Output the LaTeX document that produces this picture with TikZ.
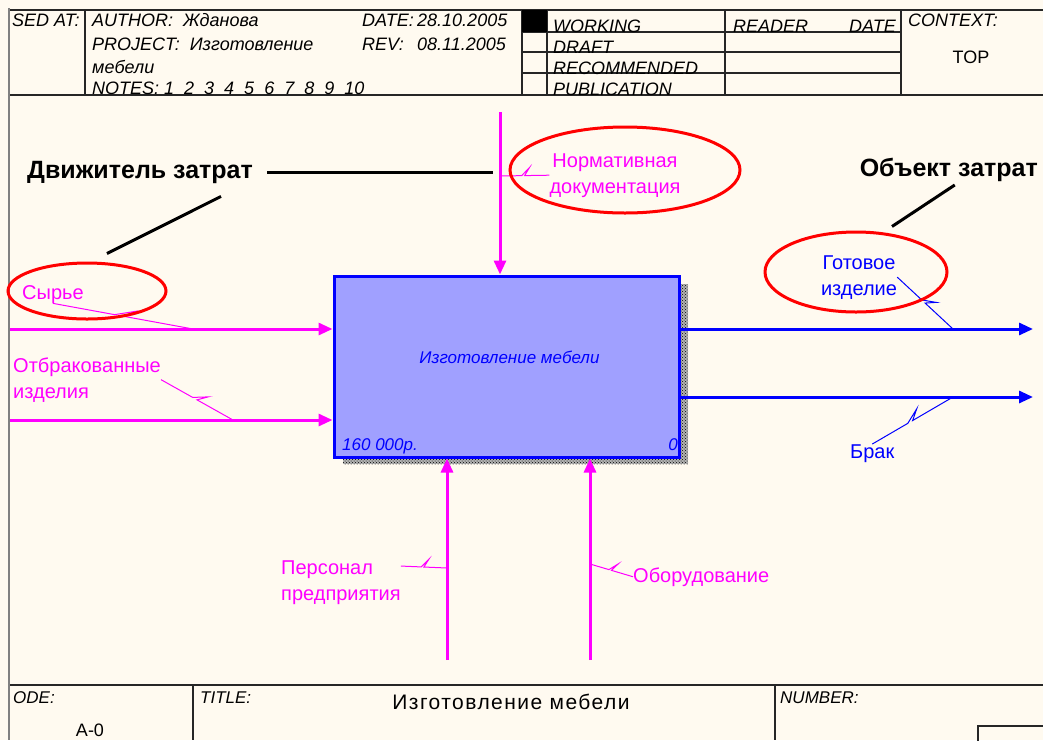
\documentclass[tikz,border=0pt]{standalone}
\usepackage{fontspec}
\setmainfont{Liberation Sans}
\usepackage{tikz}
\usetikzlibrary{arrows.meta,positioning,calc,patterns,shapes.geometric}
\definecolor{paper}{RGB}{255,250,240}
\definecolor{funcfill}{RGB}{160,160,255}
\definecolor{idefmag}{RGB}{255,0,255}
\definecolor{idefblue}{RGB}{0,0,255}
\newcommand{\squig}[3]{\draw[#1,line width=1pt] (#2) -- ($(#2)!0.44!(#3)$) -- ($(#2)!0.6!(#3)!8pt!90:(#3)$) -- ($(#2)!0.5!(#3)$) -- (#3);}

\begin{document}
\begin{tikzpicture}[
  x=1pt,y=-1pt,
  frame/.style={draw=black!85,line width=1.2pt},
  hdr/.style={font=\fontsize{18}{20}\selectfont\itshape,inner sep=0,anchor=base west},
  func/.style={draw=idefblue,line width=3pt,fill=funcfill,inner sep=0},
  ctrl/.style={idefmag,line width=3pt,-{Triangle[length=14pt,width=12pt]}},
  outp/.style={idefblue,line width=3pt,-{Triangle[length=14pt,width=12pt]}},
  lbl/.style={font=\fontsize{20}{26}\selectfont,inner sep=0,align=left,anchor=base west},
  callout/.style={draw=red,line width=3pt,ellipse,inner sep=0},
  note/.style={font=\fontsize{25}{28}\selectfont\bfseries,inner sep=0},
  pointer/.style={black,line width=3pt}
]
\clip (0,0) rectangle (1043,740);
\fill[paper] (0,0) rectangle (1043,740);
\draw[gray,line width=2pt] (9,8) -- (9,740);

% header
\draw[frame] (10,10) -- (1043,10) (10,95) -- (1043,95);
\foreach \x in {85,522,547,725,901} \draw[frame] (\x,10) -- (\x,95);
\foreach \y in {32,52,73} \draw[frame] (522,\y) -- (901,\y);
\fill (522,10) rectangle (547,32);
\node[hdr] (usedat) at (12,26) {SED AT:};
\node[hdr] (author) at (92,26) {AUTHOR:\ \ Жданова};
\node[hdr] (project) at (92,50) {PROJECT:\ \ Изготовление};
\node[hdr] (project2) at (92,73) {мебели};
\node[hdr] (notes) at (92,94) {NOTES:\ 1\ \ 2\ \ 3\ \ 4\ \ 5\ \ 6\ \ 7\ \ 8\ \ 9\ \ 10};
\node[hdr] (datelbl) at (362,26) {DATE:};
\node[hdr] (dateval) at (417,26) {28.10.2005};
\node[hdr] (revlbl) at (362,50) {REV:};
\node[hdr] (revval) at (417,50) {08.11.2005};
\node[hdr] (working) at (553,32) {WORKING};
\node[hdr] (draft) at (553,53) {DRAFT};
\node[hdr] (recomm) at (553,74) {RECOMMENDED};
\node[hdr] (public) at (553,95) {PUBLICATION};
\node[hdr] (reader) at (733,32) {READER};
\node[hdr] (rdate) at (849,32) {DATE};
\node[hdr] (context) at (908,26) {CONTEXT:};
\node[font=\fontsize{18}{20}\selectfont,inner sep=0,anchor=base] (ctxtop) at (971,63) {TOP};

% footer
\draw[frame] (10,685) -- (1043,685);
\foreach \x in {193,775} \draw[frame] (\x,685) -- (\x,740);
\draw[frame] (978,726) rectangle (1050,750);
\node[hdr,font=\fontsize{17}{20}\selectfont\itshape] (nodelbl) at (13,703) {ODE:};
\node[hdr,font=\fontsize{17}{20}\selectfont\itshape] (titlelbl) at (200,703) {TITLE:};
\node[hdr,font=\fontsize{17}{20}\selectfont\itshape] (numlbl) at (780,703) {NUMBER:};
\node[font=\fontsize{21}{24}\selectfont\addfontfeature{LetterSpace=7},inner sep=0,anchor=base] (titletext) at (511,709) {Изготовление мебели};
\node[font=\fontsize{18}{20}\selectfont,inner sep=0,anchor=base] (nodeno) at (90,736) {A-0};

% function block
\fill[gray!60] (343,284) rectangle (688,464);
\fill[pattern=crosshatch dots,pattern color=black] (343,284) rectangle (688,464);
\node[func,minimum width=345pt,minimum height=181pt] (fn) at (506.5,366.5) {};
\node[font=\fontsize{17}{20}\selectfont\itshape,text=idefblue] (fnname) at ($(fn.center)+(3,-9)$) {Изготовление мебели};
\node[font=\fontsize{17}{20}\selectfont\itshape,text=idefblue,inner sep=0,anchor=base west] (cost) at (342,450) {160 000р.};
\node[font=\fontsize{17}{20}\selectfont\itshape,text=idefblue,inner sep=0,anchor=base east] (fnno) at (678,450) {0};

% arrows
\coordinate (inA) at (10,329);
\coordinate (inB) at (10,420);
\coordinate (ctrlA) at (500,112);
\coordinate (mechA) at (447,660);
\coordinate (mechB) at (590,660);
\coordinate (outA) at (1033,329);
\coordinate (outB) at (1033,397);
\draw[ctrl] (inA) -- (inA -| fn.west);
\draw[ctrl] (inB) -- (inB -| fn.west);
\draw[ctrl] (ctrlA) -- (ctrlA |- fn.north);
\draw[ctrl] (mechA) -- (mechA |- fn.south);
\draw[ctrl] (mechB) -- (mechB |- fn.south);
\draw[outp] (fn.east |- outA) -- (outA);
\draw[outp] (fn.east |- outB) -- (outB);

% arrow labels
\node[lbl,text=idefmag] (raw) at (22,299) {Сырье};
\node[lbl,text=idefmag] (rejects) at (13,398) {Отбракованные\\изделия};
\node[lbl,text=idefmag,align=center,anchor=base] (norms) at (615,193) {Нормативная\\документация};
\node[lbl,text=idefblue,align=center,anchor=base] (product) at (859,295) {Готовое\\изделие};
\node[lbl,text=idefblue] (defect) at (850,458) {Брак};
\node[lbl,text=idefmag] (staff) at (281,600) {Персонал\\предприятия};
\node[lbl,text=idefmag] (equip) at (633,582) {Оборудование};
\squig{idefmag}{raw.south}{193,329}
\squig{idefmag}{rejects.east}{233,420}
\squig{idefmag}{500,176}{norms.west}
\squig{idefblue}{product.east}{953,329}
\squig{idefblue}{defect.north}{953,397}
\squig{idefmag}{[yshift=-6pt]staff.north east}{447,568}
\squig{idefmag}{590,564}{equip.west}

% callouts
\node[callout,minimum width=158pt,minimum height=56pt] (rawoval) at (87,291) {};
\node[callout,minimum width=230pt,minimum height=86pt] (normoval) at (625,170) {};
\node[callout,minimum width=182pt,minimum height=80pt] (prodoval) at (856,272) {};
\node[note,anchor=west] (driver) at (27,172) {Движитель затрат};
\node[note,anchor=east] (object) at (1038,170) {Объект затрат};
\draw[pointer] ([xshift=14pt]driver.east) -- ($(ctrlA |- driver.east)+(-7,0)$);
\draw[pointer] ($(driver.south east)+(-32,13)$) -- ($(rawoval.north)+(20,-8)$);
\draw[pointer] ($(object.south)+(6,3)$) -- ($(prodoval.north)+(36,-4)$);
\end{tikzpicture}
\end{document}
